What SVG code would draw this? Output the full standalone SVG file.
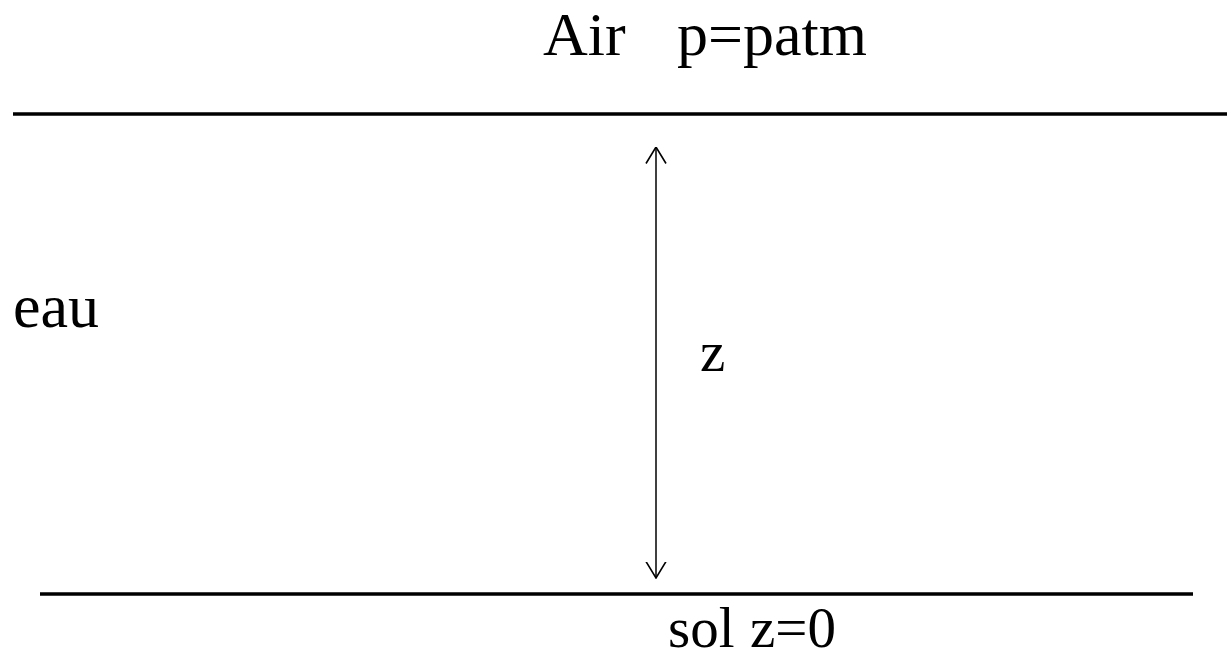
<svg xmlns="http://www.w3.org/2000/svg" width="1227" height="654" viewBox="0 0 1227 654">
<style>
.t{font-family:"Liberation Serif","Times New Roman",serif;font-size:62px;fill:#000}
.s{font-size:57px}
.ln{stroke:#000;stroke-width:3.5;fill:none}
.ar{stroke:#000;stroke-width:1.5;fill:none}
</style>
<defs>
<marker id="ah" viewBox="0 0 17 22" refX="16.5" refY="11" markerWidth="17" markerHeight="22" markerUnits="userSpaceOnUse" orient="auto-start-reverse">
<path d="M0,1 L16.5,11 L0,21" fill="none" stroke="#000" stroke-width="1.6"/>
</marker>
</defs>
<g id="air"><text class="t" x="543" y="55">Air</text><text class="t" x="677" y="55">p=patm</text></g>
<g id="eau"><text class="t" x="13" y="327">eau</text></g>
<g id="zlabel"><text class="t s" x="700" y="371">z</text></g>
<g id="sol"><text class="t s" x="668" y="647">sol</text><text class="t s" x="750" y="647">z=0</text></g>
<g id="connectors">
<line class="ln" x1="13" y1="114" x2="1227" y2="114"/>
<line class="ln" x1="40" y1="594" x2="1193" y2="594"/>
<line class="ar" x1="656" y1="147" x2="656" y2="578" marker-start="url(#ah)" marker-end="url(#ah)"/>
</g>
</svg>
